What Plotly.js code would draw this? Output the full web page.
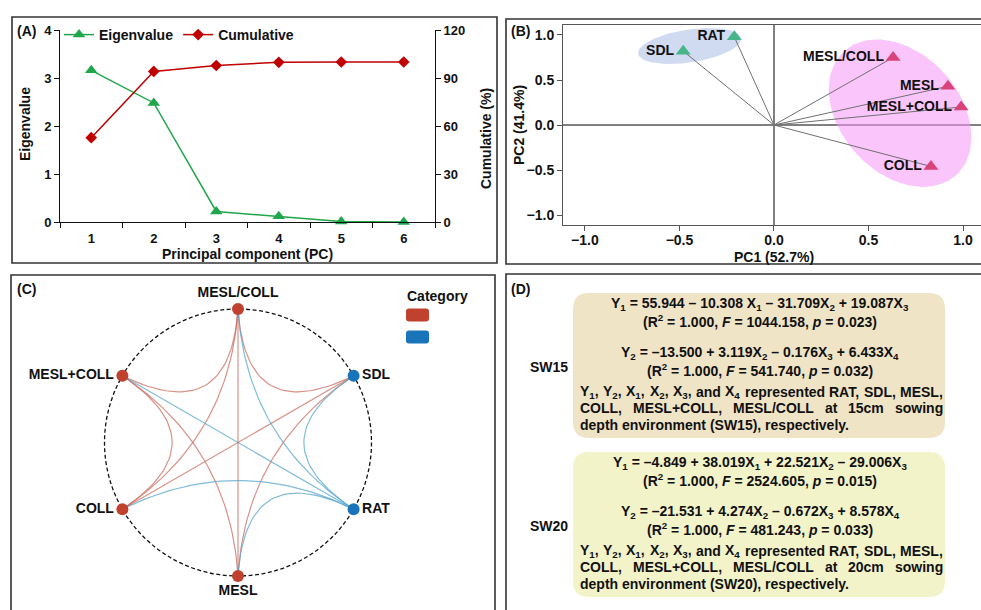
<!DOCTYPE html>
<html><head><meta charset="utf-8">
<script src="https://cdn.plot.ly/plotly-3.0.1.min.js"></script>
<style>html,body{margin:0;padding:0;background:#fff}#chart{width:981px;height:610px}</style>
</head><body><div id="chart"></div>
<script>
// ---------- Panel A data ----------
const pcLabels = ['1','2','3','4','5','6'];
const eigenvalues = [3.16, 2.48, 0.22, 0.12, 0.01, 0.00];
const cumulative = [52.7, 94.1, 97.8, 99.8, 100.0, 100.0];

// ---------- Panel B data ----------
const loadingNames = ['SDL','RAT','MESL/COLL','MESL','MESL+COLL','COLL'];
const pc1Loadings = [-0.48, -0.21, 0.63, 0.92, 0.99, 0.83];
const pc2Loadings = [0.82, 0.98, 0.75, 0.43, 0.20, -0.46];
const loadingGroup = [0, 0, 1, 1, 1, 1];

// ---------- Panel C data ----------
const networkNodes = ['MESL/COLL','SDL','RAT','MESL','COLL','MESL+COLL'];
const nodeCategory = [0, 1, 1, 0, 0, 0];
const edgeFrom = ['MESL/COLL','MESL/COLL','MESL/COLL','MESL/COLL','MESL/COLL','SDL','SDL','SDL','RAT','RAT','RAT','MESL','COLL'];
const edgeTo   = ['SDL','RAT','MESL','COLL','MESL+COLL','RAT','MESL','COLL','MESL','COLL','MESL+COLL','MESL+COLL','MESL+COLL'];
const edgeCategory = [0,1,0,0,0,1,0,0,1,1,1,0,0];

// ---------- Panel D text ----------
const sw15Equations = [
 'Y<sub>1</sub> = 55.944 – 10.308 X<sub>1</sub> – 31.709X<sub>2</sub> + 19.087X<sub>3</sub>',
 '(R<sup>2</sup> = 1.000, <i>F</i> = 1044.158, <i>p</i> = 0.023)',
 'Y<sub>2</sub> = –13.500 + 3.119X<sub>2</sub> – 0.176X<sub>3</sub> + 6.433X<sub>4</sub>',
 '(R<sup>2</sup> = 1.000, <i>F</i> = 541.740, <i>p</i> = 0.032)'];
const sw15Note = [
 'Y<sub>1</sub>, Y<sub>2</sub>, X<sub>1</sub>, X<sub>2</sub>, X<sub>3</sub>, and X<sub>4</sub> represented RAT, SDL, MESL,',
 'COLL, MESL+COLL, MESL/COLL at 15cm sowing',
 'depth environment (SW15), respectively.'];
const sw20Equations = [
 'Y<sub>1</sub> = –4.849 + 38.019X<sub>1</sub> + 22.521X<sub>2</sub> – 29.006X<sub>3</sub>',
 '(R<sup>2</sup> = 1.000, <i>F</i> = 2524.605, <i>p</i> = 0.015)',
 'Y<sub>2</sub> = –21.531 + 4.274X<sub>2</sub> – 0.672X<sub>3</sub> + 8.578X<sub>4</sub>',
 '(R<sup>2</sup> = 1.000, <i>F</i> = 481.243, <i>p</i> = 0.033)'];
const sw20Note = [
 'Y<sub>1</sub>, Y<sub>2</sub>, X<sub>1</sub>, X<sub>2</sub>, X<sub>3</sub>, and X<sub>4</sub> represented RAT, SDL, MESL,',
 'COLL, MESL+COLL, MESL/COLL at 20cm sowing',
 'depth environment (SW20), respectively.'];
const envLabels = ['SW15','SW20'];

// ---------- helpers / styles ----------
const W = 981, H = 610;
const FF = '"Liberation Sans", Arial, sans-serif';
const px = x => x / W, py = y => 1 - y / H;
const bold = (size, color) => ({family: FF, size: size, color: color || '#111', weight: 'bold'});

const traces = [];
const annotations = [];
const shapes = [];
function note(x, y, text, opts) {
  annotations.push(Object.assign({xref:'paper', yref:'paper', x:px(x), y:py(y), text:text, showarrow:false,
    font:bold(14), xanchor:'center', yanchor:'middle'}, opts || {}));
}

// ---------- Panel A ----------
const GREEN = '#1fa64a', DRED = '#c00000';
traces.push({type:'scatter', mode:'lines+markers', x:pcLabels, y:eigenvalues, name:'Eigenvalue',
  xaxis:'x', yaxis:'y', line:{color:GREEN, width:1.5}, marker:{symbol:'triangle-up', size:11, color:GREEN}, cliponaxis:false});
traces.push({type:'scatter', mode:'lines+markers', x:pcLabels, y:cumulative, name:'Cumulative',
  xaxis:'x', yaxis:'y2', line:{color:DRED, width:1.5}, marker:{symbol:'diamond', size:9, color:DRED}, cliponaxis:false});

// ---------- Panel B ----------
const bXDom = [563, W], bYDom = [25, 225];
const bXRange = [-1.116, 1.095], bYRange = [-1.111, 1.111];
const pxPerX = (bXDom[1]-bXDom[0])/(bXRange[1]-bXRange[0]);
const pxPerY = (bYDom[1]-bYDom[0])/(bYRange[1]-bYRange[0]);
const groupEllipses = [
  {cx:-0.447, cy:0.878, a:52, b:16.4, angle:-8.6, color:'rgba(150,172,222,0.45)'},
  {cx:0.667, cy:0.131, a:83.5, b:59.6, angle:47.9, color:'rgba(245,150,245,0.55)'}
];
groupEllipses.forEach(e => {
  const xs = [], ys = [], ph = e.angle*Math.PI/180;
  for (let i = 0; i <= 120; i++) {
    const t = 2*Math.PI*i/120;
    const sx = e.a*Math.cos(t)*Math.cos(ph) - e.b*Math.sin(t)*Math.sin(ph);
    const sy = e.a*Math.cos(t)*Math.sin(ph) + e.b*Math.sin(t)*Math.cos(ph);
    xs.push(e.cx + sx/pxPerX); ys.push(e.cy - sy/pxPerY);
  }
  traces.push({type:'scatter', mode:'lines', x:xs, y:ys, fill:'toself', fillcolor:e.color,
    line:{width:0, color:'rgba(0,0,0,0)'}, xaxis:'x2', yaxis:'y3', showlegend:false, hoverinfo:'skip'});
});
const vx = [], vy = [];
pc1Loadings.forEach((v, i) => { vx.push(0, v, null); vy.push(0, pc2Loadings[i], null); });
traces.push({type:'scatter', mode:'lines', x:vx, y:vy, line:{color:'#707070', width:1},
  xaxis:'x2', yaxis:'y3', showlegend:false});
const groupColors = ['#46b68a', '#d8437a'];
traces.push({type:'scatter', mode:'markers+text', x:pc1Loadings, y:pc2Loadings, text:loadingNames,
  textposition:'middle left', textfont:bold(14),
  marker:{symbol:'triangle-up', size:13, color:loadingGroup.map(g => groupColors[g])},
  xaxis:'x2', yaxis:'y3', showlegend:false, cliponaxis:false});

// ---------- Panel C ----------
const C_CX = 238, C_CY = 442.5, C_R = 133.5;
const cXDomPx = [0, 490.5], cYTopPx = 274.5;
const cX3Range = [(cXDomPx[0]-C_CX)/C_R, (cXDomPx[1]-C_CX)/C_R];
const cY4Range = [-(H - C_CY)/C_R, (C_CY - cYTopPx)/C_R];
const nodeAngle = networkNodes.map((n, i) => (90 - 60*i)*Math.PI/180);
const nodeX = nodeAngle.map(a => Math.cos(a));
const nodeY = nodeAngle.map(a => Math.sin(a));
const nodeColors = ['#c0412d', '#1a74ba'];
const edgeColors = ['rgba(200,100,85,0.7)', 'rgba(85,165,205,0.75)'];
const bend = 0.14;
[0, 1].forEach(cat => {
  const xs = [], ys = [];
  edgeFrom.forEach((f, k) => {
    if (edgeCategory[k] !== cat) return;
    const i = networkNodes.indexOf(f), j = networkNodes.indexOf(edgeTo[k]);
    const x0 = nodeX[i], y0 = nodeY[i], x2 = nodeX[j], y2 = nodeY[j];
    const cx = bend*(x0+x2)/2, cy = bend*(y0+y2)/2;
    for (let s = 0; s <= 40; s++) {
      const t = s/40, u = 1-t;
      xs.push(u*u*x0 + 2*u*t*cx + t*t*x2);
      ys.push(u*u*y0 + 2*u*t*cy + t*t*y2);
    }
    xs.push(null); ys.push(null);
  });
  traces.push({type:'scatter', mode:'lines', x:xs, y:ys, line:{color:edgeColors[cat], width:1.2},
    xaxis:'x3', yaxis:'y4', showlegend:false, hoverinfo:'skip'});
});
const nodeTextPos = ['top center','middle right','middle right','bottom center','middle left','middle left'];
traces.push({type:'scatter', mode:'markers+text', x:nodeX, y:nodeY, text:networkNodes,
  textposition:nodeTextPos, textfont:bold(14),
  marker:{size:12, color:nodeCategory.map(c => nodeColors[c])},
  xaxis:'x3', yaxis:'y4', showlegend:false, cliponaxis:false});
shapes.push({type:'circle', xref:'x3', yref:'y4', x0:-1, x1:1, y0:-1, y1:1,
  line:{color:'#111', width:1.3, dash:'4px,2.5px'}, layer:'below'});

// category legend
note(437, 296, 'Category');
function roundRectPath(x0, y0, x1, y1, r) {
  const P = (x, y) => px(x) + ',' + py(y);
  return 'M' + P(x0+r, y0) + ' L' + P(x1-r, y0) + ' Q' + P(x1, y0) + ' ' + P(x1, y0+r) +
    ' L' + P(x1, y1-r) + ' Q' + P(x1, y1) + ' ' + P(x1-r, y1) +
    ' L' + P(x0+r, y1) + ' Q' + P(x0, y1) + ' ' + P(x0, y1-r) +
    ' L' + P(x0, y0+r) + ' Q' + P(x0, y0) + ' ' + P(x0+r, y0) + ' Z';
}
nodeColors.forEach((c, i) => {
  shapes.push({type:'path', xref:'paper', yref:'paper', path:roundRectPath(406, 308.5 + 22*i, 429, 321.5 + 22*i, 3),
    fillcolor:c, line:{width:0}});
});

// ---------- Panel D ----------
const boxFill = ['#efe4c6', '#f3f3c9'];
const boxTop = [293, 452], boxH = 145;
const eqSets = [sw15Equations, sw20Equations], noteSets = [sw15Note, sw20Note];
const eqOffsets = [11, 28, 60, 77], noteOffsets = [99, 115, 132];
const cvs = document.createElement('canvas').getContext('2d');
function measure(html, size) {
  let w = 0, last = 0, m;
  const re = /<(sub|sup)>(.*?)<\/\1>/g;
  const plain = s => { cvs.font = 'bold ' + size + 'px "Liberation Sans"'; return cvs.measureText(s.replace(/<[^>]+>/g, '')).width; };
  while ((m = re.exec(html))) {
    w += plain(html.slice(last, m.index));
    cvs.font = 'bold ' + (size*0.7) + 'px "Liberation Sans"';
    w += cvs.measureText(m[2]).width;
    last = re.lastIndex;
  }
  return w + plain(html.slice(last));
}
const noteLeft = 579, noteRight = 942;
[0, 1].forEach(b => {
  const top = boxTop[b];
  shapes.push({type:'path', xref:'paper', yref:'paper', path:roundRectPath(573, top, 945, top + boxH, 16),
    fillcolor:boxFill[b], line:{width:0}, layer:'below'});
  eqSets[b].forEach((t, k) => note(760, top + eqOffsets[k], t));
  noteSets[b].forEach((line, k) => {
    const y = top + noteOffsets[k];
    if (k === noteSets[b].length - 1) { note(noteLeft - 1, y, line, {xanchor:'left'}); return; }
    const words = line.split(' ');
    const ws = words.map(w => measure(w, 14));
    const total = ws.reduce((a, c) => a + c, 0);
    const gap = Math.max(2, (noteRight - noteLeft - total)/(words.length - 1));
    let cur = noteLeft;
    words.forEach((w, i) => { note(cur - 1, y, w, {xanchor:'left'}); cur += ws[i] + gap; });
  });
  note(549, top + 74, envLabels[b]);
});

// ---------- panel labels & axis titles ----------
[['(A)', 15, 31], ['(B)', 509, 31], ['(C)', 15, 289], ['(D)', 509, 289]].forEach(l => note(l[1], l[2], l[0], {xanchor:'left'}));
note(25, 124, 'Eigenvalue', {textangle:-90});
note(486, 139, 'Cumulative (%)', {textangle:-90});
note(247.5, 254, 'Principal component (PC)');
note(774, 257, 'PC1 (52.7%)');
note(519, 125, 'PC2 (41.4%)', {textangle:-90});

// ---------- panel borders ----------
[[12, 17, 497, 263], [506, 19, 1000, 264], [11, 275, 495, 640], [506, 274, 1000, 640]].forEach(r =>
  shapes.push({type:'rect', xref:'paper', yref:'paper', x0:px(r[0]), x1:px(r[2]), y0:py(r[1]), y1:py(r[3]),
    line:{color:'#333', width:1.6}, fillcolor:'rgba(0,0,0,0)'}));

const axBase = {showgrid:false, zeroline:false, showline:true, linecolor:'#111', linewidth:1,
  ticks:'outside', ticklen:5, tickcolor:'#111', tickfont:bold(13), automargin:false, fixedrange:true};
const layout = {
  width:W, height:H, margin:{l:0, r:0, t:0, b:0}, paper_bgcolor:'#fff', plot_bgcolor:'rgba(0,0,0,0)',
  font:{family:FF, size:14, color:'#111', weight:'bold'},
  showlegend:true,
  legend:{orientation:'h', x:px(59), y:py(35), xanchor:'left', yanchor:'middle', font:bold(14),
    bgcolor:'rgba(0,0,0,0)', borderwidth:0, itemwidth:30, tracegroupgap:0},
  xaxis:Object.assign({}, axBase, {domain:[px(60), px(435)], anchor:'y', type:'category',
    range:[-0.5, 5.5], tickson:'boundaries', ticklabelstandoff:4}),
  yaxis:Object.assign({}, axBase, {domain:[py(222), py(30)], anchor:'x', range:[0, 4], dtick:1, tick0:0}),
  yaxis2:Object.assign({}, axBase, {overlaying:'y', side:'right', anchor:'x', range:[0, 120], dtick:30, tick0:0}),
  xaxis2:Object.assign({}, axBase, {domain:[px(bXDom[0]), 1], anchor:'y3', range:bXRange, dtick:0.5, tick0:-1,
    tickformat:'.1f', tickfont:bold(14), linecolor:'#555', tickcolor:'#555', mirror:true, ticklabelstandoff:-3,
    zeroline:true, zerolinecolor:'#808080', zerolinewidth:1.2}),
  yaxis3:Object.assign({}, axBase, {domain:[py(bYDom[1]), py(bYDom[0])], anchor:'x2', range:bYRange, dtick:0.5, tick0:-1,
    tickformat:'.1f', tickfont:bold(14), linecolor:'#555', tickcolor:'#555',
    zeroline:true, zerolinecolor:'#808080', zerolinewidth:1.2}),
  xaxis3:{domain:[px(cXDomPx[0]), px(cXDomPx[1])], anchor:'y4', range:cX3Range, visible:false, fixedrange:true},
  yaxis4:{domain:[0, py(cYTopPx)], anchor:'x3', range:cY4Range, visible:false, fixedrange:true},
  shapes:shapes, annotations:annotations
};
Plotly.newPlot('chart', traces, layout, {displayModeBar:false, staticPlot:true});
</script></body></html>
